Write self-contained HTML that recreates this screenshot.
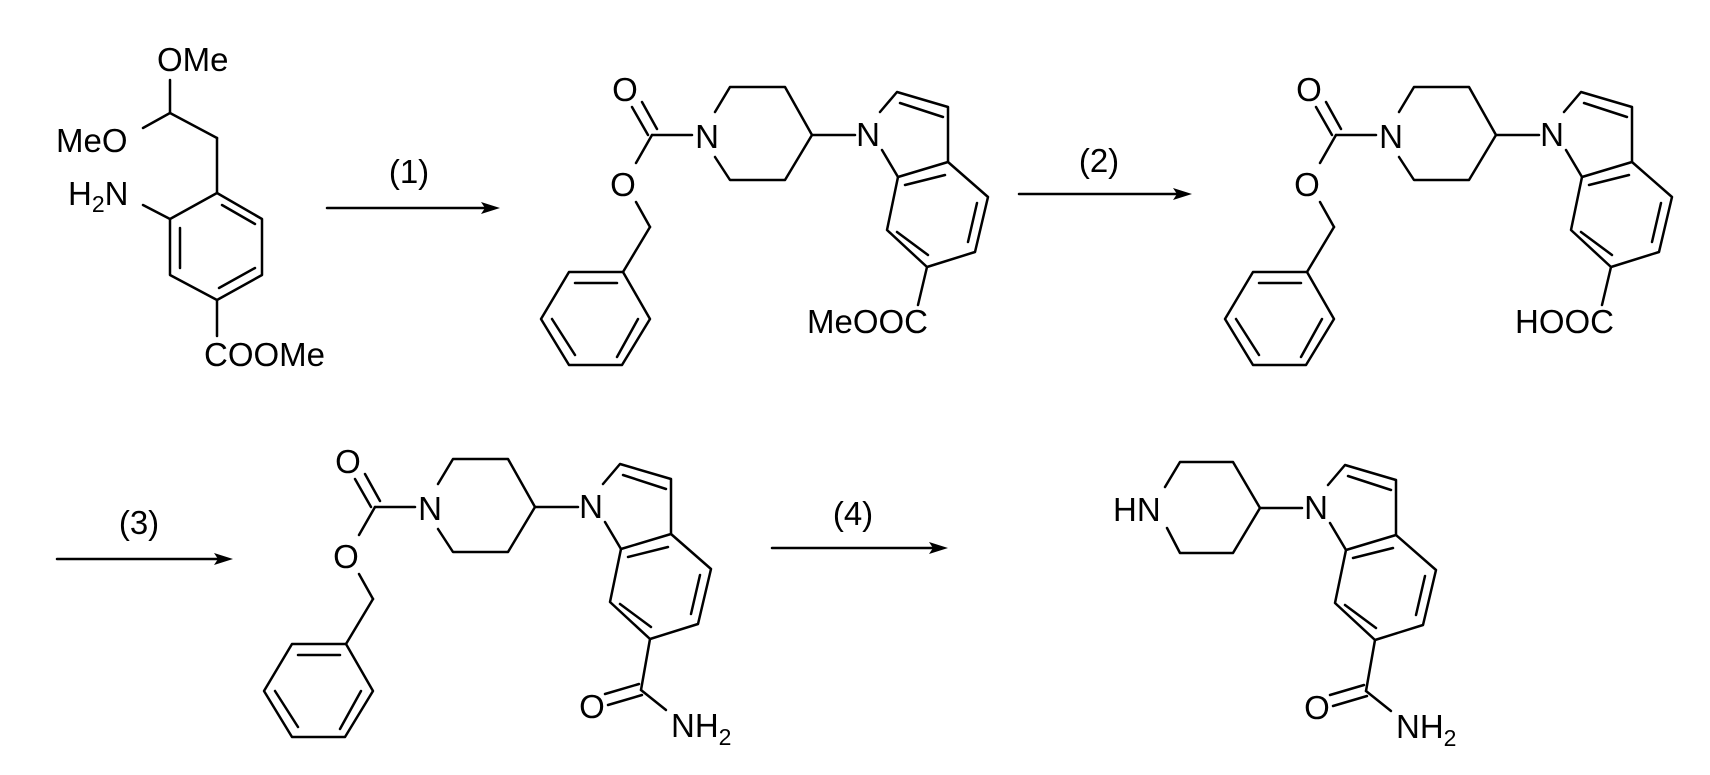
<!DOCTYPE html>
<html><head><meta charset="utf-8"><style>
html,body{margin:0;padding:0;background:#fff;}
svg{display:block;}
text{font-family:"Liberation Sans",Arial,sans-serif;font-size:33px;fill:#000;}
</style></head><body>
<svg width="1710" height="775" viewBox="0 0 1710 775" xmlns="http://www.w3.org/2000/svg">
<g stroke="#000" stroke-width="2.5" fill="none" stroke-linecap="round" stroke-linejoin="round">
<!-- Molecule 1 -->
<line x1="170" y1="80" x2="170" y2="113"/>
<line x1="143" y1="128" x2="170" y2="113"/>
<line x1="170" y1="113" x2="217" y2="138"/>
<line x1="217" y1="138" x2="217" y2="193"/>
<polygon points="217,193 170,219 170,275 217,300 262,275 262,219"/>
<line x1="180" y1="228" x2="180" y2="268"/>
<line x1="222" y1="205" x2="255" y2="224"/>
<line x1="219" y1="288" x2="255" y2="268"/>
<line x1="143" y1="205" x2="170" y2="219"/>
<line x1="217" y1="300" x2="217" y2="336"/>
<!-- arrows -->
<line x1="327" y1="208" x2="490" y2="208"/>
<line x1="1019" y1="194" x2="1182" y2="194"/>
<line x1="57" y1="559" x2="222" y2="559"/>
<line x1="772" y1="548" x2="937" y2="548"/>
</g>
<g fill="#000">
<polygon points="500,208 481,202 485,208 481,214"/>
<polygon points="1192,194 1173,188 1177,194 1173,200"/>
<polygon points="233,559 214,553 218,559 214,565"/>
<polygon points="948,548 929,542 933,548 929,554"/>
</g>
<text x="157" y="71">OMe</text>
<text x="56" y="152">MeO</text>
<text x="68" y="205">H<tspan font-size="23" dy="7">2</tspan><tspan dy="-7">N</tspan></text>
<text x="204" y="366">COOMe</text>
<text x="409" y="183" text-anchor="middle">(1)</text>
<text x="1099" y="172" text-anchor="middle">(2)</text>
<text x="139" y="534" text-anchor="middle">(3)</text>
<text x="853" y="525" text-anchor="middle">(4)</text>

<!-- Molecule 2 -->
<g>
<g stroke="#000" stroke-width="2.5" fill="none" stroke-linecap="round" stroke-linejoin="round">
<line x1="632" y1="107" x2="648" y2="135"/><line x1="642" y1="102" x2="657" y2="129"/>
<line x1="652" y1="135" x2="692" y2="135"/><line x1="652" y1="135" x2="636" y2="163"/>
<line x1="636" y1="202" x2="650" y2="227"/><line x1="650" y1="227" x2="623" y2="272"/>
<polygon points="623,272 569,272 541,319 569,365 622,365 650,319"/>
<line x1="575" y1="283" x2="617" y2="283"/><line x1="552" y1="319" x2="575" y2="355"/><line x1="638" y1="319" x2="617" y2="357"/>
<polyline points="715,112 730,87 785,87 812,135 785,180 730,180 715,157"/>
<line x1="812" y1="135" x2="855" y2="135"/>
<polyline points="880,112 897,92 948,107 948,162 898,177 882,150"/>
<polyline points="898,177 887,230 927,267 975,252 988,197 948,162"/>
<line x1="900" y1="103" x2="943" y2="117"/><line x1="905" y1="185" x2="945" y2="175"/>
<line x1="977" y1="203" x2="968" y2="242"/><line x1="897" y1="232" x2="928" y2="255"/>
<line x1="927" y1="267" x2="918" y2="305"/>
</g>
<text x="625" y="101" text-anchor="middle">O</text>
<text x="623" y="196" text-anchor="middle">O</text>
<text x="707" y="148" text-anchor="middle">N</text>
<text x="868" y="146" text-anchor="middle">N</text>
<text x="928" y="333" text-anchor="end">MeOOC</text>
</g>

<!-- Molecule 3 -->
<g transform="translate(684,0)">
<g stroke="#000" stroke-width="2.5" fill="none" stroke-linecap="round" stroke-linejoin="round">
<line x1="632" y1="107" x2="648" y2="135"/><line x1="642" y1="102" x2="657" y2="129"/>
<line x1="652" y1="135" x2="692" y2="135"/><line x1="652" y1="135" x2="636" y2="163"/>
<line x1="636" y1="202" x2="650" y2="227"/><line x1="650" y1="227" x2="623" y2="272"/>
<polygon points="623,272 569,272 541,319 569,365 622,365 650,319"/>
<line x1="575" y1="283" x2="617" y2="283"/><line x1="552" y1="319" x2="575" y2="355"/><line x1="638" y1="319" x2="617" y2="357"/>
<polyline points="715,112 730,87 785,87 812,135 785,180 730,180 715,157"/>
<line x1="812" y1="135" x2="855" y2="135"/>
<polyline points="880,112 897,92 948,107 948,162 898,177 882,150"/>
<polyline points="898,177 887,230 927,267 975,252 988,197 948,162"/>
<line x1="900" y1="103" x2="943" y2="117"/><line x1="905" y1="185" x2="945" y2="175"/>
<line x1="977" y1="203" x2="968" y2="242"/><line x1="897" y1="232" x2="928" y2="255"/>
<line x1="927" y1="267" x2="918" y2="305"/>
</g>
<text x="625" y="101" text-anchor="middle">O</text>
<text x="623" y="196" text-anchor="middle">O</text>
<text x="707" y="148" text-anchor="middle">N</text>
<text x="868" y="146" text-anchor="middle">N</text>
<text x="930" y="333" text-anchor="end">HOOC</text>
</g>

<!-- Molecule 4 -->
<g transform="translate(-277,372)">
<g stroke="#000" stroke-width="2.5" fill="none" stroke-linecap="round" stroke-linejoin="round">
<line x1="632" y1="107" x2="648" y2="135"/><line x1="642" y1="102" x2="657" y2="129"/>
<line x1="652" y1="135" x2="692" y2="135"/><line x1="652" y1="135" x2="636" y2="163"/>
<line x1="636" y1="202" x2="650" y2="227"/><line x1="650" y1="227" x2="623" y2="272"/>
<polygon points="623,272 569,272 541,319 569,365 622,365 650,319"/>
<line x1="575" y1="283" x2="617" y2="283"/><line x1="552" y1="319" x2="575" y2="355"/><line x1="638" y1="319" x2="617" y2="357"/>
<polyline points="715,112 730,87 785,87 812,135 785,180 730,180 715,157"/>
<line x1="812" y1="135" x2="855" y2="135"/>
<polyline points="880,112 897,92 948,107 948,162 898,177 882,150"/>
<polyline points="898,177 887,230 927,267 975,252 988,197 948,162"/>
<line x1="900" y1="103" x2="943" y2="117"/><line x1="905" y1="185" x2="945" y2="175"/>
<line x1="977" y1="203" x2="968" y2="242"/><line x1="897" y1="232" x2="928" y2="255"/>
<line x1="927" y1="267" x2="918" y2="318"/>
<line x1="885" y1="333" x2="919" y2="323"/><line x1="882" y1="322" x2="916" y2="312"/>
<line x1="918" y1="318" x2="943" y2="338"/>
</g>
<text x="625" y="101" text-anchor="middle">O</text>
<text x="623" y="196" text-anchor="middle">O</text>
<text x="707" y="148" text-anchor="middle">N</text>
<text x="868" y="146" text-anchor="middle">N</text>
<text x="869" y="346" text-anchor="middle">O</text>
<text x="948" y="365">NH<tspan font-size="23" dy="8">2</tspan></text>
</g>

<!-- Molecule 5 -->
<g stroke="#000" stroke-width="2.5" fill="none" stroke-linecap="round" stroke-linejoin="round">
<polyline points="1165,487 1180,462 1233,462 1260,508 1233,553 1180,553 1167,528"/>
<line x1="1260" y1="508" x2="1302" y2="508"/>
</g>
<text x="1113" y="521">HN</text>
<g transform="translate(448,373)">
<g stroke="#000" stroke-width="2.5" fill="none" stroke-linecap="round" stroke-linejoin="round">
<polyline points="880,112 897,92 948,107 948,162 898,177 882,150"/>
<polyline points="898,177 887,230 927,267 975,252 988,197 948,162"/>
<line x1="900" y1="103" x2="943" y2="117"/><line x1="905" y1="185" x2="945" y2="175"/>
<line x1="977" y1="203" x2="968" y2="242"/><line x1="897" y1="232" x2="928" y2="255"/>
<line x1="927" y1="267" x2="918" y2="318"/>
<line x1="885" y1="333" x2="919" y2="323"/><line x1="882" y1="322" x2="916" y2="312"/>
<line x1="918" y1="318" x2="943" y2="338"/>
</g>
<text x="868" y="146" text-anchor="middle">N</text>
<text x="869" y="346" text-anchor="middle">O</text>
<text x="948" y="365">NH<tspan font-size="23" dy="8">2</tspan></text>
</g>
</svg>
</body></html>
